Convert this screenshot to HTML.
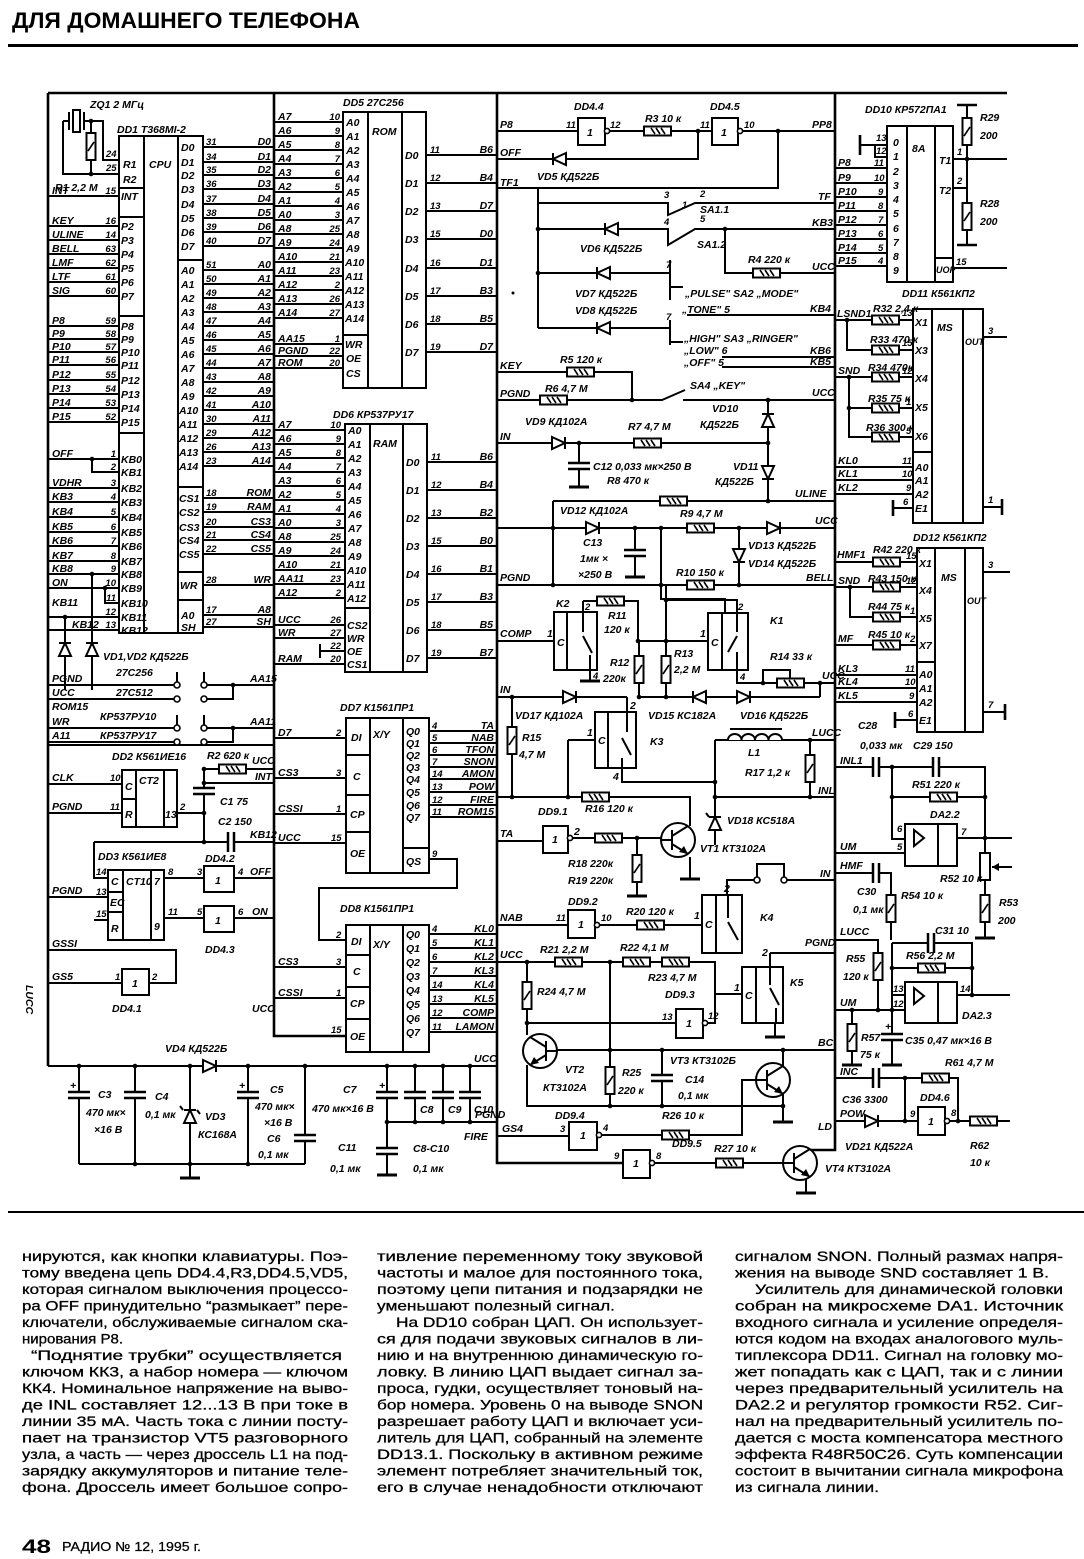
<!DOCTYPE html>
<html><head><meta charset="utf-8">
<style>
html,body{margin:0;padding:0;background:#fff;}
svg{display:block}
.t{font-family:"Liberation Sans Narrow","Liberation Sans",sans-serif;font-style:italic;font-weight:bold;font-size:10.5px;fill:#000}
.s{font-size:9.5px}
.e{text-anchor:end}
.b{font-family:"Liberation Sans",sans-serif;font-size:14px;fill:#000;stroke:#000;stroke-width:0.3}
.w{stroke:#000;stroke-width:2;fill:none}
.w3{stroke:#000;stroke-width:2.6;fill:none}
.bx{stroke:#000;stroke-width:2;fill:#fff}
</style></head><body>
<svg width="1084" height="1559" viewBox="0 0 1084 1559" xmlns="http://www.w3.org/2000/svg">
<defs>
<g id="rh"><rect x="0" y="-4.5" width="27" height="9" fill="#fff" stroke="#000" stroke-width="2"/><path d="M7,-3L11,3M12,-3L16,3M17,-3L21,3" stroke="#000" stroke-width="1.6" fill="none"/></g>
<g id="rv"><rect x="-4.5" y="0" width="9" height="27" fill="#fff" stroke="#000" stroke-width="2"/><path d="M-3,18L3,9" stroke="#000" stroke-width="1.6"/></g>
<g id="dR"><path d="M0,-6L13,0L0,6Z" fill="#fff" stroke="#000" stroke-width="2"/><path d="M13,-6V6" stroke="#000" stroke-width="2"/></g>
<g id="dL"><path d="M13,-6L0,0L13,6Z" fill="#fff" stroke="#000" stroke-width="2"/><path d="M0,-6V6" stroke="#000" stroke-width="2"/></g>
<g id="dU"><path d="M-6,13L0,0L6,13Z" fill="#fff" stroke="#000" stroke-width="2"/><path d="M-6,0H6" stroke="#000" stroke-width="2"/></g>
<g id="dD"><path d="M-6,0L0,13L6,0Z" fill="#fff" stroke="#000" stroke-width="2"/><path d="M-6,13H6" stroke="#000" stroke-width="2"/></g>
<g id="cH"><rect x="-2" y="-10" width="4" height="20" fill="#fff"/><path d="M-3,-10V10M3,-10V10" stroke="#000" stroke-width="2.5"/></g>
<g id="cV"><rect x="-11" y="-2" width="22" height="4" fill="#fff"/><path d="M-11,-3H11M-11,3H11" stroke="#000" stroke-width="2.5"/></g>
<g id="gnd"><path d="M-10,0H10" stroke="#000" stroke-width="3"/></g>
<g id="q"><circle r="17" fill="#fff" stroke="#000" stroke-width="2"/><path d="M-6,-10V10M-6,-4L10,-14M-6,4L10,14M-17,0H-6" stroke="#000" stroke-width="2" fill="none"/><path d="M10,14L1,12L6,6Z"/></g>
</defs>

<!-- HEADER -->
<text x="12" y="28" font-family="Liberation Sans" font-weight="bold" font-size="22" textLength="348" lengthAdjust="spacingAndGlyphs">ДЛЯ ДОМАШНЕГО ТЕЛЕФОНА</text>
<rect x="8" y="44" width="1070" height="3"/>

<!-- FRAME -->
<path class="w3" d="M48,93H1007M48,93V1066M274,93V1036H346M497,93V1163H623M835,93V1150H806"/>
<path d="M8,1212H1084" stroke="#000" stroke-width="2"/>

<!-- ===== LEFT: CRYSTAL + CPU ===== -->
<path class="w" d="M63,121H69M63,121V174H119M84,121H103V160H119M91,121V174"/>
<rect x="73" y="110" width="7" height="22" class="bx"/>
<path class="w" d="M69,112V130M84,112V130"/>
<use href="#rv" x="91" y="133"/>
<circle cx="91" cy="121" r="2.3"/><circle cx="91" cy="174" r="2.3"/>
<text class="t" x="90" y="108">ZQ1  2 МГц</text>
<text class="t" x="117" y="133">DD1  T368МI-2</text>
<text class="t" x="55" y="191">R1  2,2 M</text>
<text class="t s" x="106" y="157">24</text><text class="t s" x="106" y="171">25</text>

<path class="w" d="M48,196H119M48,226H119M48,240H119M48,254H119M48,268H119M48,282H119M48,296H119M48,326H119M48,339H119M48,352H119M48,365H119M48,380H119M48,394H119M48,408H119M48,422H119M48,459H119M92,459V472H119M48,488H119M48,502H119M48,517H119M48,532H119M48,546H119M48,561H119M48,574H119M48,588H119M105,588V603H119M48,617H119M48,630H119M65,617V690M92,574V690"/>
<circle cx="92" cy="459" r="2.3"/><circle cx="105" cy="588" r="2.3"/><circle cx="65" cy="617" r="2.3"/><circle cx="92" cy="574" r="2.3"/>
<use href="#dU" x="65" y="643"/><use href="#dU" x="92" y="643"/>
<text class="t" x="103" y="660">VD1,VD2   КД522Б</text>

<rect x="119" y="136" width="84" height="497" class="bx"/>
<path class="w" d="M144,136V633M178,136V633M119,188H144M119,217H144M119,316H144M119,433H144M178,260H203M178,487H203M178,572H203M178,600H203"/>
<text class="t" x="149" y="168" font-size="12">CPU</text>
<g class="t">
<text x="123" y="168">R1</text><text x="123" y="183">R2</text>
<text x="52" y="194">INT</text><text x="121" y="200">INT</text>
<text x="52" y="224">KEY</text><text x="52" y="238">ULINE</text><text x="52" y="252">BELL</text><text x="52" y="266">LMF</text><text x="52" y="280">LTF</text><text x="52" y="294">SIG</text>
<text x="52" y="324">P8</text><text x="52" y="337">P9</text><text x="52" y="350">P10</text><text x="52" y="363">P11</text><text x="52" y="378">P12</text><text x="52" y="392">P13</text><text x="52" y="406">P14</text><text x="52" y="420">P15</text>
<text x="52" y="457">OFF</text><text x="52" y="486">VDHR</text><text x="52" y="500">KB3</text><text x="52" y="515">KB4</text><text x="52" y="530">KB5</text><text x="52" y="544">KB6</text><text x="52" y="559">KB7</text><text x="52" y="572">KB8</text><text x="52" y="586">ON</text><text x="52" y="606">KB11</text><text x="72" y="628">KB12</text>
<text x="121" y="230">P2</text><text x="121" y="244">P3</text><text x="121" y="258">P4</text><text x="121" y="272">P5</text><text x="121" y="286">P6</text><text x="121" y="300">P7</text>
<text x="121" y="330">P8</text><text x="121" y="343">P9</text><text x="121" y="356">P10</text><text x="121" y="369">P11</text><text x="121" y="384">P12</text><text x="121" y="398">P13</text><text x="121" y="412">P14</text><text x="121" y="426">P15</text>
<text x="121" y="463">KB0</text><text x="121" y="476">KB1</text><text x="121" y="492">KB2</text><text x="121" y="506">KB3</text><text x="121" y="521">KB4</text><text x="121" y="536">KB5</text><text x="121" y="550">KB6</text><text x="121" y="565">KB7</text><text x="121" y="578">KB8</text><text x="121" y="592">KB9</text><text x="121" y="607">KB10</text><text x="121" y="621">KB11</text><text x="121" y="634">KB12</text>
</g>
<g class="t s e">
<text x="116" y="194">15</text><text x="116" y="224">16</text><text x="116" y="238">14</text><text x="116" y="252">63</text><text x="116" y="266">62</text><text x="116" y="280">61</text><text x="116" y="294">60</text>
<text x="116" y="324">59</text><text x="116" y="337">58</text><text x="116" y="350">57</text><text x="116" y="363">56</text><text x="116" y="378">55</text><text x="116" y="392">54</text><text x="116" y="406">53</text><text x="116" y="420">52</text>
<text x="116" y="457">1</text><text x="116" y="470">2</text><text x="116" y="486">3</text><text x="116" y="500">4</text><text x="116" y="515">5</text><text x="116" y="530">6</text><text x="116" y="544">7</text><text x="116" y="559">8</text><text x="116" y="572">9</text><text x="116" y="586">10</text><text x="116" y="601">11</text><text x="116" y="615">12</text><text x="116" y="628">13</text>
</g>

<path class="w" d="M203,147H274M203,162H274M203,175H274M203,189H274M203,204H274M203,218H274M203,232H274M203,246H274M203,270H274M203,284H274M203,298H274M203,312H274M203,326H274M203,340H274M203,354H274M203,368H274M203,382H274M203,396H274M203,410H274M203,424H274M203,438H274M203,452H274M203,466H274M203,498H274M203,512H274M203,527H274M203,540H274M203,554H274M203,585H274M203,615H274M203,627H274"/>
<g class="t">
<text x="181" y="151">D0</text><text x="181" y="166">D1</text><text x="181" y="179">D2</text><text x="181" y="193">D3</text><text x="181" y="208">D4</text><text x="181" y="222">D5</text><text x="181" y="236">D6</text><text x="181" y="250">D7</text>
<text x="181" y="274">A0</text><text x="181" y="288">A1</text><text x="181" y="302">A2</text><text x="181" y="316">A3</text><text x="181" y="330">A4</text><text x="181" y="344">A5</text><text x="181" y="358">A6</text><text x="181" y="372">A7</text><text x="181" y="386">A8</text><text x="181" y="400">A9</text><text x="179" y="414">A10</text><text x="179" y="428">A11</text><text x="179" y="442">A12</text><text x="179" y="456">A13</text><text x="179" y="470">A14</text>
<text x="179" y="502">CS1</text><text x="179" y="516">CS2</text><text x="179" y="531">CS3</text><text x="179" y="544">CS4</text><text x="179" y="558">CS5</text><text x="180" y="589">WR</text><text x="181" y="619">A0</text><text x="181" y="631">SH</text>
</g>
<g class="t s">
<text x="206" y="145">31</text><text x="206" y="160">34</text><text x="206" y="173">35</text><text x="206" y="187">36</text><text x="206" y="202">37</text><text x="206" y="216">38</text><text x="206" y="230">39</text><text x="206" y="244">40</text>
<text x="206" y="268">51</text><text x="206" y="282">50</text><text x="206" y="296">49</text><text x="206" y="310">48</text><text x="206" y="324">47</text><text x="206" y="338">46</text><text x="206" y="352">45</text><text x="206" y="366">44</text><text x="206" y="380">43</text><text x="206" y="394">42</text><text x="206" y="408">41</text><text x="206" y="422">30</text><text x="206" y="436">29</text><text x="206" y="450">26</text><text x="206" y="464">23</text>
<text x="206" y="496">18</text><text x="206" y="510">19</text><text x="206" y="525">20</text><text x="206" y="538">21</text><text x="206" y="552">22</text><text x="206" y="583">28</text><text x="206" y="613">17</text><text x="206" y="625">27</text>
</g>
<g class="t e">
<text x="271" y="145">D0</text><text x="271" y="160">D1</text><text x="271" y="173">D2</text><text x="271" y="187">D3</text><text x="271" y="202">D4</text><text x="271" y="216">D5</text><text x="271" y="230">D6</text><text x="271" y="244">D7</text>
<text x="271" y="268">A0</text><text x="271" y="282">A1</text><text x="271" y="296">A2</text><text x="271" y="310">A3</text><text x="271" y="324">A4</text><text x="271" y="338">A5</text><text x="271" y="352">A6</text><text x="271" y="366">A7</text><text x="271" y="380">A8</text><text x="271" y="394">A9</text><text x="271" y="408">A10</text><text x="271" y="422">A11</text><text x="271" y="436">A12</text><text x="271" y="450">A13</text><text x="271" y="464">A14</text>
<text x="271" y="496">ROM</text><text x="271" y="510">RAM</text><text x="271" y="525">CS3</text><text x="271" y="538">CS4</text><text x="271" y="552">CS5</text><text x="271" y="583">WR</text><text x="271" y="613">A8</text><text x="271" y="625">SH</text>
</g>

<!-- ===== DD5 ROM ===== -->
<text class="t" x="343" y="106">DD5  27C256</text>
<path class="w" d="M274,122H343M274,136H343M274,150H343M274,164H343M274,178H343M274,192H343M274,206H343M274,220H343M274,234H343M274,248H343M274,262H343M274,276H343M274,290H343M274,304H343M274,318H343M274,344H343M274,356H343M274,368H343M426,155H497M426,183H497M426,211H497M426,239H497M426,268H497M426,296H497M426,324H497M426,352H497"/>
<rect x="343" y="112" width="83" height="276" class="bx"/>
<path class="w" d="M368,112V388M402,112V388M343,335H368"/>
<text class="t" x="372" y="135">ROM</text>
<g class="t">
<text x="278" y="120">A7</text><text x="278" y="134">A6</text><text x="278" y="148">A5</text><text x="278" y="162">A4</text><text x="278" y="176">A3</text><text x="278" y="190">A2</text><text x="278" y="204">A1</text><text x="278" y="218">A0</text><text x="278" y="232">A8</text><text x="278" y="246">A9</text><text x="278" y="260">A10</text><text x="278" y="274">A11</text><text x="278" y="288">A12</text><text x="278" y="302">A13</text><text x="278" y="316">A14</text><text x="278" y="342">AA15</text><text x="278" y="354">PGND</text><text x="278" y="366">ROM</text>
<text x="346" y="126">A0</text><text x="346" y="140">A1</text><text x="346" y="154">A2</text><text x="346" y="168">A3</text><text x="346" y="182">A4</text><text x="346" y="196">A5</text><text x="346" y="210">A6</text><text x="346" y="224">A7</text><text x="346" y="238">A8</text><text x="346" y="252">A9</text><text x="345" y="266">A10</text><text x="345" y="280">A11</text><text x="345" y="294">A12</text><text x="345" y="308">A13</text><text x="345" y="322">A14</text><text x="345" y="348">WR</text><text x="346" y="362">OE</text><text x="346" y="377">CS</text>
<text x="405" y="159">D0</text><text x="405" y="187">D1</text><text x="405" y="215">D2</text><text x="405" y="243">D3</text><text x="405" y="272">D4</text><text x="405" y="300">D5</text><text x="405" y="328">D6</text><text x="405" y="356">D7</text>
</g>
<g class="t s e">
<text x="340" y="120">10</text><text x="340" y="134">9</text><text x="340" y="148">8</text><text x="340" y="162">7</text><text x="340" y="176">6</text><text x="340" y="190">5</text><text x="340" y="204">4</text><text x="340" y="218">3</text><text x="340" y="232">25</text><text x="340" y="246">24</text><text x="340" y="260">21</text><text x="340" y="274">23</text><text x="340" y="288">2</text><text x="340" y="302">26</text><text x="340" y="316">27</text><text x="340" y="342">1</text><text x="340" y="354">22</text><text x="340" y="366">20</text>
</g>
<g class="t s"><text x="430" y="153">11</text><text x="430" y="181">12</text><text x="430" y="209">13</text><text x="430" y="237">15</text><text x="430" y="266">16</text><text x="430" y="294">17</text><text x="430" y="322">18</text><text x="430" y="350">19</text></g>
<g class="t e"><text x="493" y="153">B6</text><text x="493" y="181">B4</text><text x="493" y="209">D7</text><text x="493" y="237">D0</text><text x="493" y="266">D1</text><text x="493" y="294">B3</text><text x="493" y="322">B5</text><text x="493" y="350">D7</text></g>

<!-- ===== DD6 RAM ===== -->
<text class="t" x="333" y="418">DD6  КР537РУ17</text>
<path class="w" d="M274,430H345M274,444H345M274,458H345M274,472H345M274,486H345M274,500H345M274,514H345M274,528H345M274,542H345M274,556H345M274,570H345M274,584H345M274,598H345M274,625H345M274,638H345M320,651H345M320,644V658M274,664H345M427,462H497M427,490H497M427,518H497M427,546H497M427,574H497M427,602H497M427,630H497M427,658H497"/>
<rect x="345" y="424" width="82" height="248" class="bx"/>
<path class="w" d="M370,424V672M403,424V672M345,608H370"/>
<text class="t" x="373" y="447">RAM</text>
<g class="t">
<text x="278" y="428">A7</text><text x="278" y="442">A6</text><text x="278" y="456">A5</text><text x="278" y="470">A4</text><text x="278" y="484">A3</text><text x="278" y="498">A2</text><text x="278" y="512">A1</text><text x="278" y="526">A0</text><text x="278" y="540">A8</text><text x="278" y="554">A9</text><text x="278" y="568">A10</text><text x="278" y="582">AA11</text><text x="278" y="596">A12</text><text x="278" y="623">UCC</text><text x="278" y="636">WR</text><text x="278" y="662">RAM</text>
<text x="348" y="434">A0</text><text x="348" y="448">A1</text><text x="348" y="462">A2</text><text x="348" y="476">A3</text><text x="348" y="490">A4</text><text x="348" y="504">A5</text><text x="348" y="518">A6</text><text x="348" y="532">A7</text><text x="348" y="546">A8</text><text x="348" y="560">A9</text><text x="347" y="574">A10</text><text x="347" y="588">A11</text><text x="347" y="602">A12</text><text x="347" y="629">CS2</text><text x="347" y="642">WR</text><text x="347" y="655">OE</text><text x="347" y="668">CS1</text>
<text x="406" y="466">D0</text><text x="406" y="494">D1</text><text x="406" y="522">D2</text><text x="406" y="550">D3</text><text x="406" y="578">D4</text><text x="406" y="606">D5</text><text x="406" y="634">D6</text><text x="406" y="662">D7</text>
</g>
<g class="t s e">
<text x="341" y="428">10</text><text x="341" y="442">9</text><text x="341" y="456">8</text><text x="341" y="470">7</text><text x="341" y="484">6</text><text x="341" y="498">5</text><text x="341" y="512">4</text><text x="341" y="526">3</text><text x="341" y="540">25</text><text x="341" y="554">24</text><text x="341" y="568">21</text><text x="341" y="582">23</text><text x="341" y="596">2</text><text x="341" y="623">26</text><text x="341" y="636">27</text><text x="341" y="649">22</text><text x="341" y="662">20</text>
</g>
<g class="t s"><text x="431" y="460">11</text><text x="431" y="488">12</text><text x="431" y="516">13</text><text x="431" y="544">15</text><text x="431" y="572">16</text><text x="431" y="600">17</text><text x="431" y="628">18</text><text x="431" y="656">19</text></g>
<g class="t e"><text x="493" y="460">B6</text><text x="493" y="488">B4</text><text x="493" y="516">B2</text><text x="493" y="544">B0</text><text x="493" y="572">B1</text><text x="493" y="600">B3</text><text x="493" y="628">B5</text><text x="493" y="656">B7</text></g>

<!-- ===== DD7 ===== -->
<text class="t" x="340" y="711">DD7  К1561ПР1</text>
<path class="w" d="M274,738H346M274,778H346M274,814H346M274,843H346M429,731H497M429,743H497M429,755H497M429,767H497M429,779H497M429,792H497M429,805H497M429,817H497M429,859H457V888H319V940H346"/>
<rect x="346" y="718" width="83" height="155" class="bx"/>
<path class="w" d="M370,718V873M403,718V873M346,755H370M346,795H370M346,832H370M403,848H429"/>
<g class="t">
<text x="373" y="738">X/Y</text>
<text x="351" y="741">DI</text><text x="353" y="780">C</text><text x="350" y="818">CP</text><text x="350" y="857">OE</text>
<text x="406" y="735">Q0</text><text x="406" y="747">Q1</text><text x="406" y="759">Q2</text><text x="406" y="771">Q3</text><text x="406" y="783">Q4</text><text x="406" y="796">Q5</text><text x="406" y="809">Q6</text><text x="406" y="821">Q7</text><text x="406" y="865">QS</text>
<text x="278" y="736">D7</text><text x="278" y="776">CS3</text><text x="278" y="812">CSSI</text><text x="278" y="841">UCC</text>
</g>
<g class="t s"><text x="336" y="736">2</text><text x="336" y="776">3</text><text x="336" y="812">1</text><text x="331" y="841">15</text>
<text x="432" y="729">4</text><text x="432" y="741">5</text><text x="432" y="753">6</text><text x="432" y="765">7</text><text x="432" y="777">14</text><text x="432" y="790">13</text><text x="432" y="803">12</text><text x="432" y="815">11</text><text x="432" y="857">9</text></g>
<g class="t e"><text x="494" y="729">TA</text><text x="494" y="741">NAB</text><text x="494" y="753">TFON</text><text x="494" y="765">SNON</text><text x="494" y="777">AMON</text><text x="494" y="790">POW</text><text x="494" y="803">FIRE</text><text x="494" y="815">ROM15</text></g>

<!-- ===== DD8 ===== -->
<text class="t" x="340" y="912">DD8  К1561ПР1</text>
<path class="w" d="M274,967H346M274,998H346M429,934H497M429,948H497M429,962H497M429,976H497M429,990H497M429,1004H497M429,1018H497M429,1032H497"/>
<rect x="346" y="925" width="83" height="127" class="bx"/>
<path class="w" d="M370,925V1052M403,925V1052M346,955H370M346,987H370M346,1019H370"/>
<g class="t">
<text x="373" y="948">X/Y</text>
<text x="351" y="945">DI</text><text x="353" y="975">C</text><text x="350" y="1007">CP</text><text x="350" y="1040">OE</text>
<text x="406" y="938">Q0</text><text x="406" y="952">Q1</text><text x="406" y="966">Q2</text><text x="406" y="980">Q3</text><text x="406" y="994">Q4</text><text x="406" y="1008">Q5</text><text x="406" y="1022">Q6</text><text x="406" y="1036">Q7</text>
<text x="278" y="965">CS3</text><text x="278" y="996">CSSI</text><text x="252" y="1012">UCC</text>
</g>
<g class="t s"><text x="336" y="938">2</text><text x="336" y="965">3</text><text x="336" y="996">1</text><text x="331" y="1033">15</text>
<text x="432" y="932">4</text><text x="432" y="946">5</text><text x="432" y="960">6</text><text x="432" y="974">7</text><text x="432" y="988">14</text><text x="432" y="1002">13</text><text x="432" y="1016">12</text><text x="432" y="1030">11</text></g>
<g class="t e"><text x="494" y="932">KL0</text><text x="494" y="946">KL1</text><text x="494" y="960">KL2</text><text x="494" y="974">KL3</text><text x="494" y="988">KL4</text><text x="494" y="1002">KL5</text><text x="494" y="1016">COMP</text><text x="494" y="1030">LAMON</text></g>

<!-- ===== LEFT LOWER ===== -->
<path class="w" d="M48,685H177M48,699H177M48,728H177M48,742H177M177,685V672M204,672V685M177,728V715M204,715V728M204,685H274M233,685V699H204M204,728H274M233,728V742H204M48,745H274"/>
<g fill="#fff" stroke="#000" stroke-width="1.6"><circle cx="177" cy="685" r="3"/><circle cx="204" cy="685" r="3"/><circle cx="177" cy="699" r="3"/><circle cx="204" cy="699" r="3"/><circle cx="177" cy="728" r="3"/><circle cx="204" cy="728" r="3"/><circle cx="177" cy="742" r="3"/><circle cx="204" cy="742" r="3"/></g>
<circle cx="233" cy="685" r="2.3"/><circle cx="233" cy="728" r="2.3"/>
<g class="t">
<text x="52" y="682">PGND</text><text x="52" y="696">UCC</text><text x="52" y="710">ROM15</text><text x="52" y="725">WR</text><text x="52" y="739">A11</text>
<text x="116" y="676">27C256</text><text x="116" y="696">27C512</text><text x="100" y="720">КР537РУ10</text><text x="100" y="739">КР537РУ17</text>
<text x="250" y="682">AA15</text><text x="250" y="725">AA11</text>
<text x="112" y="760">DD2  К561ИЕ16</text>
<text x="207" y="759">R2  620 к</text>
<text x="252" y="764">UCC</text><text x="255" y="780">INT</text>
<text x="220" y="805">C1  75</text><text x="218" y="825">C2  150</text>
<text x="250" y="838">KB12</text>
<text x="52" y="781">CLK</text><text x="52" y="810">PGND</text>
<text x="98" y="860">DD3  К561ИЕ8</text>
<text x="205" y="862">DD4.2</text><text x="205" y="953">DD4.3</text>
<text x="250" y="875">OFF</text><text x="252" y="915">ON</text>
<text x="52" y="894">PGND</text><text x="52" y="947">GSSI</text><text x="52" y="980">GS5</text>
<text x="112" y="1012">DD4.1</text>
</g>
<text class="t" x="26" y="985" transform="rotate(90 26 985)">LUCC</text>
<path class="w" d="M48,784H122M48,813H122M177,813H204M204,769V842M204,769H274M204,783H274M94,842H274M94,842V878H108M48,897H108M94,920H108M164,878H204M234,878H274M164,918H204M234,918H274M48,950H176V983H150M48,983H122"/>
<rect x="122" y="770" width="55" height="57" class="bx"/>
<path class="w" d="M136,770V827M164,770V827M122,799H136"/>
<rect x="108" y="870" width="56" height="70" class="bx"/>
<path class="w" d="M123,870V940M151,870V940M108,892H123M108,912H123"/>
<rect x="204" y="866" width="30" height="26" class="bx"/>
<rect x="204" y="906" width="30" height="26" class="bx"/>
<rect x="122" y="969" width="27" height="26" class="bx"/>
<use href="#rh" x="219" y="769"/>
<use href="#cV" x="204" y="791"/>
<use href="#cH" x="231" y="842"/>
<circle cx="204" cy="813" r="2.3"/><circle cx="204" cy="769" r="2.3"/><circle cx="204" cy="842" r="2.3"/><circle cx="204" cy="783" r="2.3"/>
<g class="t">
<text x="125" y="790">C</text><text x="125" y="818">R</text><text x="139" y="784">CT2</text><text x="165" y="818">13</text>
<text x="111" y="885">C</text><text x="110" y="906">EC</text><text x="111" y="932">R</text><text x="126" y="885">CT10</text><text x="154" y="885">7</text><text x="154" y="930">9</text>
<text x="215" y="884">1</text><text x="215" y="924">1</text><text x="132" y="987">1</text>
</g>
<g class="t s"><text x="110" y="781">10</text><text x="110" y="810">11</text><text x="180" y="810">2</text><text x="168" y="875">8</text><text x="197" y="875">3</text><text x="238" y="875">4</text><text x="168" y="915">11</text><text x="197" y="915">5</text><text x="238" y="915">6</text><text x="96" y="875">14</text><text x="96" y="895">13</text><text x="96" y="917">15</text><text x="115" y="980">1</text><text x="152" y="980">2</text></g>

<!-- ===== POWER ===== -->
<path class="w" d="M48,1066H497M79,1066V1164M135,1066V1164M190,1066V1178M248,1066V1164M305,1066V1164M79,1164H305M387,1066V1175M415,1066V1122M443,1066V1122M470,1066V1122M387,1122H497"/>
<use href="#dR" x="203" y="1066"/>
<use href="#cV" x="79" y="1095"/><use href="#cV" x="135" y="1095"/><use href="#cV" x="248" y="1095"/><use href="#cV" x="305" y="1138"/>
<use href="#cV" x="387" y="1095"/><use href="#cV" x="415" y="1095"/><use href="#cV" x="443" y="1095"/><use href="#cV" x="470" y="1095"/><use href="#cV" x="387" y="1151"/>
<use href="#dU" x="190" y="1110"/><path class="w" d="M183,1110L180,1106M197,1110L200,1114"/>
<use href="#gnd" x="190" y="1178"/><use href="#gnd" x="387" y="1175"/>
<g><circle cx="79" cy="1066" r="2.3"/><circle cx="135" cy="1066" r="2.3"/><circle cx="190" cy="1066" r="2.3"/><circle cx="248" cy="1066" r="2.3"/><circle cx="305" cy="1066" r="2.3"/><circle cx="387" cy="1066" r="2.3"/><circle cx="415" cy="1066" r="2.3"/><circle cx="443" cy="1066" r="2.3"/><circle cx="470" cy="1066" r="2.3"/><circle cx="135" cy="1164" r="2.3"/><circle cx="190" cy="1164" r="2.3"/><circle cx="248" cy="1164" r="2.3"/><circle cx="387" cy="1122" r="2.3"/><circle cx="415" cy="1122" r="2.3"/><circle cx="443" cy="1122" r="2.3"/><circle cx="470" cy="1122" r="2.3"/></g>
<g class="t">
<text x="165" y="1052">VD4   КД522Б</text>
<text x="70" y="1089">+</text><text x="239" y="1089">+</text><text x="379" y="1089">+</text>
<text x="98" y="1098">C3</text><text x="86" y="1116">470 мк×</text><text x="94" y="1133">×16 В</text>
<text x="155" y="1100">C4</text><text x="145" y="1118">0,1 мк</text>
<text x="205" y="1120">VD3</text><text x="198" y="1138">КС168А</text>
<text x="270" y="1093">C5</text><text x="255" y="1110">470 мк×</text><text x="264" y="1126">×16 В</text><text x="267" y="1142">C6</text><text x="258" y="1158">0,1 мк</text>
<text x="343" y="1093">C7</text><text x="312" y="1112">470 мк×16 В</text>
<text x="420" y="1113">C8</text><text x="448" y="1113">C9</text><text x="474" y="1113">C10</text>
<text x="338" y="1151">C11</text><text x="330" y="1172">0,1 мк</text>
<text x="413" y="1152">C8-C10</text><text x="413" y="1172">0,1 мк</text>
<text x="474" y="1062">UCC</text><text x="475" y="1118">PGND</text><text x="464" y="1140">FIRE</text>
</g>

<!-- ===== MIDDLE TOP ===== -->
<path class="w" d="M497,131H835M497,159H698V131M497,188H778V131M538,188V328M538,203H668V215L695,203H835M538,229H668V245L695,229H835M725,229V273H835M538,273H670M538,328H670M670,260V300M670,320V345M670,287H683M670,342H683M687,315H835M722,357H835M722,367H835M497,372H632V400M497,400H662L685,390M683,400H835"/>
<rect x="578" y="118" width="27" height="27" class="bx"/>
<rect x="712" y="118" width="26" height="27" class="bx"/>
<circle cx="607" cy="131" r="2.6" fill="#fff" stroke="#000" stroke-width="1.6"/><circle cx="740" cy="131" r="2.6" fill="#fff" stroke="#000" stroke-width="1.6"/>
<use href="#rh" x="644" y="131"/>
<use href="#dL" x="553" y="159"/>
<use href="#dL" x="605" y="229"/><use href="#dL" x="597" y="273"/><use href="#dL" x="597" y="328"/>
<use href="#rh" x="753" y="273"/><use href="#rh" x="567" y="372"/><use href="#rh" x="540" y="400"/>
<circle cx="698" cy="131" r="2.3"/><circle cx="778" cy="131" r="2.3"/><circle cx="538" cy="229" r="2.3"/><circle cx="538" cy="273" r="2.3"/><circle cx="725" cy="229" r="2.3"/><circle cx="632" cy="400" r="2.3"/><circle cx="513" cy="293" r="1.5"/>
<g class="t">
<text x="500" y="128">P8</text><text x="500" y="156">OFF</text><text x="500" y="186">TF1</text><text x="500" y="369">KEY</text><text x="500" y="397">PGND</text>
<text x="574" y="110">DD4.4</text><text x="710" y="110">DD4.5</text><text x="645" y="122">R3  10 к</text>
<text x="587" y="136">1</text><text x="721" y="136">1</text>
<text x="537" y="180">VD5   КД522Б</text>
<text x="812" y="128">PP8</text><text x="818" y="200">TF</text><text x="812" y="226">KB3</text><text x="812" y="270">UCC</text><text x="810" y="312">KB4</text><text x="810" y="354">KB6</text><text x="810" y="365">KB5</text><text x="812" y="396">UCC</text>
<text x="700" y="213">SA1.1</text><text x="697" y="248">SA1.2</text>
<text x="580" y="252">VD6  КД522Б</text><text x="575" y="297">VD7  КД522Б</text><text x="575" y="314">VD8  КД522Б</text>
<text x="748" y="263">R4  220 к</text>
<text x="685" y="297">„PULSE"  SA2  „MODE"</text><text x="682" y="313">„TONE"  5</text>
<text x="684" y="342">„HIGH"  SA3  „RINGER"</text><text x="684" y="354">„LOW"  6</text><text x="684" y="366">„OFF"  5</text>
<text x="560" y="363">R5   120 к</text><text x="545" y="392">R6   4,7 M</text><text x="690" y="389">SA4 „KEY"</text>
</g>
<g class="t s"><text x="566" y="128">11</text><text x="610" y="128">12</text><text x="700" y="128">11</text><text x="744" y="128">10</text><text x="664" y="198">3</text><text x="682" y="208">1</text><text x="700" y="197">2</text><text x="664" y="225">4</text><text x="700" y="222">5</text><text x="666" y="268">7</text><text x="666" y="320">7</text></g>

<!-- ===== MIDDLE: IN / ULINE / UCC / BELL ===== -->
<path class="w" d="M768,400V501M497,443H768M579,443V487M553,501H835M553,501V585M497,528H835M635,528V577M739,528V585M497,585H835M661,528V599H725V615"/>
<use href="#dU" x="768" y="414"/><use href="#dD" x="768" y="466"/>
<use href="#dR" x="552" y="443"/><use href="#rh" x="634" y="443"/>
<use href="#cV" x="579" y="466"/><use href="#gnd" x="579" y="487"/>
<use href="#rh" x="660" y="501"/>
<use href="#dR" x="586" y="528"/><use href="#rh" x="687" y="528"/><use href="#dR" x="767" y="528"/>
<use href="#cV" x="635" y="553"/><use href="#gnd" x="635" y="577"/>
<use href="#dD" x="739" y="549"/>
<use href="#rh" x="687" y="585"/>
<g><circle cx="768" cy="400" r="2.3"/><circle cx="768" cy="443" r="2.3"/><circle cx="768" cy="501" r="2.3"/><circle cx="579" cy="443" r="2.3"/><circle cx="553" cy="528" r="2.3"/><circle cx="635" cy="528" r="2.3"/><circle cx="661" cy="528" r="2.3"/><circle cx="739" cy="528" r="2.3"/><circle cx="553" cy="585" r="2.3"/><circle cx="661" cy="585" r="2.3"/><circle cx="739" cy="585" r="2.3"/></g>
<g class="t">
<text x="500" y="440">IN</text><text x="525" y="425">VD9   КД102А</text>
<text x="628" y="430">R7   4,7 M</text>
<text x="712" y="412">VD10</text><text x="700" y="428">КД522Б</text>
<text x="733" y="470">VD11</text><text x="715" y="485">КД522Б</text>
<text x="593" y="470">C12  0,033 мк×250 В</text><text x="607" y="484">R8  470 к</text>
<text x="795" y="497">ULINE</text>
<text x="560" y="514">VD12   КД102А</text><text x="680" y="517">R9   4,7 M</text><text x="815" y="524">UCC</text>
<text x="583" y="546">C13</text><text x="580" y="562">1мк ×</text><text x="578" y="578">×250 В</text>
<text x="748" y="549">VD13  КД522Б</text><text x="748" y="567">VD14  КД522Б</text>
<text x="500" y="581">PGND</text><text x="676" y="576">R10   150 к</text><text x="806" y="581">BELL</text>
</g>

<!-- ===== RELAYS K2 K1 ===== -->
<path class="w" d="M583,601H638V641M583,601V632M583,636L592,653M590,655V680M497,641H554M638,641H708M639,641V697M666,585V697M666,600H737V632M737,636L728,652M737,652V683H835M763,683V670H790V678M820,683V697M497,697H627M639,697H820M627,697V732M622,738L631,755M622,758V782H715"/>
<rect x="554" y="612" width="43" height="58" class="bx"/><path class="w" d="M567,612V670M583,601V632M583,636L592,653M590,655V670"/>
<rect x="708" y="613" width="40" height="57" class="bx"/><path class="w" d="M722,613V670M737,600V632M737,636L728,652M737,652V670"/>
<use href="#gnd" x="590" y="681"/>
<use href="#rh" x="597" y="601"/><use href="#rv" x="639" y="656"/><use href="#rv" x="666" y="656"/><use href="#rh" x="777" y="683"/>
<use href="#dR" x="563" y="697"/><use href="#dL" x="693" y="697"/><use href="#dR" x="737" y="697"/>
<g><circle cx="638" cy="641" r="2.3"/><circle cx="666" cy="641" r="2.3"/><circle cx="666" cy="600" r="2.3"/><circle cx="666" cy="697" r="2.3"/><circle cx="639" cy="697" r="2.3"/><circle cx="820" cy="683" r="2.3"/><circle cx="763" cy="683" r="2.3"/><circle cx="512" cy="697" r="2.3"/></g>
<g class="t">
<text x="556" y="607">K2</text><text x="557" y="646">C</text><text x="711" y="646">C</text><text x="770" y="624">K1</text>
<text x="500" y="637">COMP</text><text x="547" y="637">1</text><text x="700" y="637">1</text>
<text x="608" y="619">R11</text><text x="604" y="633">120 к</text>
<text x="610" y="666">R12</text><text x="603" y="682">220к</text>
<text x="674" y="657">R13</text><text x="674" y="673">2,2 M</text>
<text x="770" y="660">R14   33 к</text><text x="822" y="679">UCC</text>
<text x="500" y="693">IN</text><text x="515" y="719">VD17  КД102А</text><text x="648" y="719">VD15  КС182А</text><text x="740" y="719">VD16   КД522Б</text>
</g>
<g class="t s"><text x="585" y="610">2</text><text x="738" y="610">2</text><text x="593" y="679">4</text><text x="740" y="680">4</text></g>

<!-- ===== K3 / L1 / VT1 ===== -->
<path class="w" d="M512,697V797M568,740H595M568,740V797M497,797H690V826M715,740V845M715,740H835M810,740V797M715,797H835M497,841H543M572,838H662M637,838V895M690,857V878"/>
<rect x="595" y="712" width="41" height="56" class="bx"/><path class="w" d="M608,712V768M627,712V732M622,738L631,755M622,758V768"/>
<path d="M728,740a6.75,6 0 0 1 13.5,0a6.75,6 0 0 1 13.5,0a6.75,6 0 0 1 13.5,0a6.75,6 0 0 1 13.5,0" fill="#fff" stroke="#000" stroke-width="2"/>
<path class="w" d="M730,729H782"/>
<use href="#rv" x="512" y="727"/><use href="#rh" x="582" y="797"/><use href="#rv" x="810" y="755"/>
<use href="#dU" x="715" y="817"/><path class="w" d="M709,817L706,813"/>
<rect x="543" y="826" width="25" height="27" class="bx"/><circle cx="570" cy="838" r="2.6" fill="#fff" stroke="#000" stroke-width="1.6"/>
<use href="#rh" x="595" y="838"/><use href="#rv" x="637" y="855"/><use href="#gnd" x="637" y="896"/>
<use href="#q" x="678" y="840"/><use href="#gnd" x="690" y="879"/>
<g><circle cx="568" cy="797" r="2.3"/><circle cx="715" cy="782" r="2.3"/><circle cx="715" cy="797" r="2.3"/><circle cx="810" cy="740" r="2.3"/><circle cx="810" cy="797" r="2.3"/><circle cx="637" cy="838" r="2.3"/><circle cx="512" cy="797" r="2.3"/></g>
<g class="t">
<text x="522" y="741">R15</text><text x="519" y="758">4,7 M</text>
<text x="598" y="744">C</text><text x="650" y="745">K3</text><text x="587" y="736">1</text><text x="630" y="709">2</text><text x="613" y="780">4</text>
<text x="748" y="756">L1</text><text x="745" y="776">R17   1,2 к</text><text x="812" y="736">LUCC</text><text x="818" y="794">INL</text>
<text x="538" y="815">DD9.1</text><text x="585" y="812">R16    120 к</text>
<text x="727" y="824">VD18   КС518А</text>
<text x="500" y="837">TA</text><text x="552" y="843">1</text><text x="574" y="835">2</text>
<text x="568" y="867">R18   220к</text><text x="568" y="884">R19   220к</text>
<text x="700" y="852">VT1   КТ3102А</text>
</g>

<!-- ===== K4 / K5 / DD9 ===== -->
<path class="w" d="M727,895V880H754M757,880V864H784V880M787,880H835M497,925H568M599,925H702M497,962H715V994H742M527,962V1035M610,962V1106M770,953H835M770,953V985M775,1008V1036M527,1023H676M707,1023H715V994M555,1050H835M662,1050V1106M783,1050V1066M783,1094V1122M527,1065V1106H783M497,1136H569M601,1135H742V1080H756M654,1163H783M806,1150H835M806,1178V1192"/>
<rect x="702" y="895" width="40" height="58" class="bx"/><path class="w" d="M716,895V953M728,895V918M728,922L738,940"/>
<g fill="#fff" stroke="#000" stroke-width="1.6"><circle cx="757" cy="880" r="3"/><circle cx="784" cy="880" r="3"/></g>
<rect x="568" y="910" width="27" height="28" class="bx"/><circle cx="597" cy="925" r="2.6" fill="#fff" stroke="#000" stroke-width="1.6"/>
<use href="#rh" x="637" y="925"/>
<use href="#rh" x="555" y="962"/><use href="#rh" x="623" y="962"/><use href="#rh" x="662" y="962"/>
<use href="#rv" x="527" y="982"/>
<rect x="742" y="967" width="41" height="56" class="bx"/><path class="w" d="M756,967V1023M770,967V985M770,988L779,1005M776,1008V1023"/>
<use href="#gnd" x="775" y="1037"/>
<rect x="676" y="1009" width="27" height="29" class="bx"/><circle cx="705" cy="1023" r="2.6" fill="#fff" stroke="#000" stroke-width="1.6"/>
<use href="#q" x="540" y="1051" transform="translate(1080 0) scale(-1 1)"/>
<use href="#rv" x="610" y="1067"/><use href="#cV" x="662" y="1078"/>
<use href="#q" x="773" y="1080"/><use href="#gnd" x="783" y="1122"/>
<rect x="569" y="1122" width="28" height="28" class="bx"/><circle cx="599" cy="1135" r="2.6" fill="#fff" stroke="#000" stroke-width="1.6"/>
<use href="#rh" x="662" y="1135"/>
<rect x="623" y="1150" width="27" height="28" class="bx"/><circle cx="652" cy="1163" r="2.6" fill="#fff" stroke="#000" stroke-width="1.6"/>
<use href="#rh" x="716" y="1163"/>
<use href="#q" x="800" y="1163"/><use href="#gnd" x="806" y="1193"/>
<g><circle cx="610" cy="962" r="2.3"/><circle cx="527" cy="962" r="2.3"/><circle cx="527" cy="1023" r="2.3"/><circle cx="610" cy="1050" r="2.3"/><circle cx="662" cy="1050" r="2.3"/><circle cx="783" cy="1050" r="2.3"/><circle cx="610" cy="1106" r="2.3"/><circle cx="662" cy="1106" r="2.3"/><circle cx="783" cy="1106" r="2.3"/></g>
<g class="t">
<text x="820" y="877">IN</text><text x="705" y="928">C</text><text x="694" y="919">1</text><text x="760" y="921">K4</text><text x="724" y="892">2</text>
<text x="500" y="921">NAB</text><text x="568" y="905">DD9.2</text><text x="578" y="928">1</text><text x="626" y="915">R20  120 к</text>
<text x="500" y="958">UCC</text><text x="540" y="953">R21   2,2 M</text><text x="620" y="951">R22   4,1 M</text>
<text x="648" y="981">R23   4,7 M</text><text x="665" y="998">DD9.3</text><text x="686" y="1027">1</text>
<text x="537" y="995">R24   4,7 M</text>
<text x="745" y="999">C</text><text x="734" y="991">1</text><text x="790" y="986">K5</text><text x="762" y="956">2</text>
<text x="805" y="946">PGND</text><text x="818" y="1046">BC</text>
<text x="565" y="1073">VT2</text><text x="543" y="1091">КТ3102А</text>
<text x="622" y="1076">R25</text><text x="618" y="1094">220 к</text>
<text x="670" y="1064">VT3   КТ3102Б</text><text x="685" y="1083">C14</text><text x="678" y="1099">0,1 мк</text>
<text x="502" y="1132">GS4</text><text x="555" y="1119">DD9.4</text><text x="580" y="1139">1</text><text x="662" y="1119">R26   10 к</text>
<text x="672" y="1147">DD9.5</text><text x="633" y="1167">1</text><text x="714" y="1152">R27   10 к</text>
<text x="818" y="1130">LD</text><text x="825" y="1172">VT4   КТ3102А</text>
</g>
<g class="t s"><text x="556" y="921">11</text><text x="601" y="921">10</text><text x="662" y="1020">13</text><text x="708" y="1019">12</text><text x="560" y="1132">3</text><text x="603" y="1131">4</text><text x="614" y="1159">9</text><text x="656" y="1159">8</text></g>

<!-- ===== RIGHT: DD10 ===== -->
<text class="t" x="865" y="113">DD10  КР572ПА1</text>
<path class="w" d="M835,168H887M835,183H887M835,197H887M835,211H887M835,225H887M835,239H887M835,253H887M835,266H887M860,145H887M875,145V157H887M953,159H1007M967,105V245M953,188H967M953,268H1007"/>
<path class="w3" d="M860,135V155M957,105H977M957,245H977"/>
<rect x="887" y="126" width="66" height="156" class="bx"/>
<path class="w" d="M907,126V282M935,126V282M935,258H953"/>
<use href="#rv" x="967" y="118"/><use href="#rv" x="967" y="203"/>
<circle cx="967" cy="159" r="2.3"/>
<g class="t">
<text x="893" y="146">0</text><text x="893" y="160">1</text><text x="893" y="175">2</text><text x="893" y="189">3</text><text x="893" y="203">4</text><text x="893" y="217">5</text><text x="893" y="232">6</text><text x="893" y="246">7</text><text x="893" y="260">8</text><text x="893" y="274">9</text>
<text x="912" y="152">8A</text><text x="939" y="164">T1</text><text x="939" y="194">T2</text><text x="936" y="273" font-size="9">UOP</text>
<text x="838" y="166">P8</text><text x="838" y="181">P9</text><text x="838" y="195">P10</text><text x="838" y="209">P11</text><text x="838" y="223">P12</text><text x="838" y="237">P13</text><text x="838" y="251">P14</text><text x="838" y="264">P15</text>
<text x="980" y="121">R29</text><text x="980" y="139">200</text><text x="980" y="207">R28</text><text x="980" y="225">200</text>
</g>
<g class="t s"><text x="876" y="141">13</text><text x="876" y="154">12</text><text x="874" y="166">11</text><text x="874" y="181">10</text><text x="878" y="195">9</text><text x="878" y="209">8</text><text x="878" y="223">7</text><text x="878" y="237">6</text><text x="878" y="251">5</text><text x="878" y="264">4</text><text x="957" y="155">1</text><text x="957" y="184">2</text><text x="956" y="265">15</text></g>

<!-- ===== DD11 ===== -->
<text class="t" x="902" y="297">DD11  К561КП2</text>
<path class="w" d="M835,320H913M847,320V350H913M835,377H913M849,377V437H913M849,408H913M835,467H913M835,480H913M835,494H913M893,508H913M983,337H1007M983,507H1002"/>
<path class="w3" d="M893,500V516M1002,499V515"/>
<rect x="913" y="309" width="70" height="214" class="bx"/>
<path class="w" d="M932,309V523M963,309V523M913,452H932"/>
<use href="#rh" x="872" y="320"/><use href="#rh" x="872" y="350"/><use href="#rh" x="872" y="377"/><use href="#rh" x="872" y="408"/><use href="#rh" x="872" y="437"/>
<circle cx="847" cy="320" r="2.3"/><circle cx="849" cy="377" r="2.3"/><circle cx="849" cy="408" r="2.3"/>
<g class="t">
<text x="937" y="331">MS</text><text x="965" y="345" font-size="9">OUT</text>
<text x="915" y="326">X1</text><text x="915" y="354">X3</text><text x="915" y="382">X4</text><text x="915" y="411">X5</text><text x="915" y="440">X6</text>
<text x="915" y="471">A0</text><text x="915" y="484">A1</text><text x="915" y="498">A2</text><text x="915" y="512">E1</text>
<text x="837" y="317">LSND1</text><text x="838" y="374">SND</text>
<text x="873" y="312">R32  2,4 к</text><text x="870" y="343">R33  470 к</text><text x="868" y="371">R34  470к</text><text x="868" y="402">R35  75 к</text><text x="866" y="431">R36  300 к</text>
<text x="838" y="464">KL0</text><text x="838" y="477">KL1</text><text x="838" y="491">KL2</text>
</g>
<g class="t s"><text x="902" y="316">13</text><text x="902" y="346">15</text><text x="902" y="374">12</text><text x="906" y="405">1</text><text x="906" y="434">5</text><text x="902" y="464">11</text><text x="902" y="477">10</text><text x="906" y="491">9</text><text x="903" y="505">6</text><text x="988" y="334">3</text><text x="988" y="503">1</text></g>

<!-- ===== DD12 ===== -->
<text class="t" x="913" y="541">DD12  К561КП2</text>
<path class="w" d="M835,562H917M835,587H917M850,587V617H917M835,645H917M835,675H917M835,688H917M835,702H917M895,720H917M983,572H1010M983,712H1005"/>
<path class="w3" d="M895,712V728M1005,704V720"/>
<rect x="917" y="548" width="66" height="184" class="bx"/>
<path class="w" d="M935,548V732M965,548V732M917,662H935"/>
<use href="#rh" x="873" y="562"/><use href="#rh" x="873" y="587"/><use href="#rh" x="873" y="617"/><use href="#rh" x="873" y="645"/>
<circle cx="850" cy="587" r="2.3"/>
<g class="t">
<text x="941" y="581">MS</text><text x="967" y="604" font-size="9">OUT</text>
<text x="919" y="567">X1</text><text x="919" y="594">X4</text><text x="919" y="622">X5</text><text x="919" y="649">X7</text>
<text x="919" y="678">A0</text><text x="919" y="692">A1</text><text x="919" y="706">A2</text><text x="919" y="724">E1</text>
<text x="837" y="558">HMF1</text><text x="838" y="584">SND</text><text x="838" y="642">MF</text>
<text x="873" y="553">R42  220 к</text><text x="868" y="582">R43  150 к</text><text x="868" y="610">R44  75 к</text><text x="868" y="638">R45  10 к</text>
<text x="838" y="672">KL3</text><text x="838" y="685">KL4</text><text x="838" y="699">KL5</text><text x="858" y="729">C28</text>
</g>
<g class="t s"><text x="906" y="559">15</text><text x="906" y="584">12</text><text x="910" y="614">1</text><text x="910" y="642">2</text><text x="905" y="672">11</text><text x="905" y="685">10</text><text x="909" y="699">9</text><text x="908" y="717">6</text><text x="988" y="568">3</text><text x="988" y="708">7</text></g>

<!-- ===== DA2.2 / DA2.3 ===== -->
<path class="w" d="M835,767H985V838M892,767V839H905M892,797H985M835,853H905M957,838H1012M985,838V937M1012,867H992M835,873H891V940M835,940H878V1010M892,943H972V995M892,943V1010M892,968H972M892,995H905M957,995H1010M835,1010H905M852,1010V1064M892,1010V1064M835,1078H958V1121M905,1078V1121M835,1121H918M949,1121H1010"/>
<use href="#cH" x="876" y="767"/><use href="#cH" x="936" y="767"/>
<use href="#rh" x="930" y="797"/>
<rect x="905" y="824" width="52" height="42" class="bx"/><path class="w" d="M938,824V866M914,830V846L924,838Z"/>
<rect x="980" y="853" width="10" height="27" class="bx"/><path d="M992,867L999,863V871Z"/>
<use href="#rv" x="985" y="895"/><use href="#gnd" x="985" y="938"/>
<use href="#cH" x="876" y="873"/><use href="#rv" x="891" y="895"/>
<use href="#rv" x="878" y="953"/>
<use href="#cH" x="931" y="943"/>
<use href="#rh" x="918" y="968"/>
<rect x="905" y="982" width="52" height="41" class="bx"/><path class="w" d="M938,982V1023M914,988V1004L924,996Z"/>
<use href="#rv" x="852" y="1024"/><use href="#gnd" x="852" y="1065"/>
<use href="#cV" x="892" y="1037"/><use href="#gnd" x="892" y="1065"/>
<use href="#cH" x="876" y="1078"/><use href="#rh" x="922" y="1078"/>
<use href="#dR" x="865" y="1121"/>
<rect x="918" y="1107" width="27" height="28" class="bx"/><circle cx="947" cy="1121" r="2.6" fill="#fff" stroke="#000" stroke-width="1.6"/>
<use href="#rh" x="970" y="1121"/>
<g><circle cx="892" cy="767" r="2.3"/><circle cx="892" cy="797" r="2.3"/><circle cx="985" cy="797" r="2.3"/><circle cx="985" cy="838" r="2.3"/><circle cx="892" cy="968" r="2.3"/><circle cx="972" cy="968" r="2.3"/><circle cx="972" cy="995" r="2.3"/><circle cx="852" cy="1010" r="2.3"/><circle cx="878" cy="1010" r="2.3"/><circle cx="892" cy="1010" r="2.3"/><circle cx="905" cy="1078" r="2.3"/><circle cx="905" cy="1121" r="2.3"/><circle cx="958" cy="1121" r="2.3"/></g>
<g class="t">
<text x="860" y="749">0,033 мк</text><text x="913" y="749">C29  150</text>
<text x="840" y="764">INL1</text><text x="912" y="788">R51  220 к</text>
<text x="930" y="818">DA2.2</text><text x="840" y="850">UM</text>
<text x="940" y="882">R52   10 к</text><text x="999" y="906">R53</text><text x="998" y="924">200</text>
<text x="840" y="869">HMF</text><text x="857" y="895">C30</text><text x="853" y="913">0,1 мк</text><text x="901" y="899">R54   10 к</text>
<text x="840" y="935">LUCC</text><text x="935" y="934">C31  10</text>
<text x="846" y="962">R55</text><text x="843" y="980">120 к</text><text x="906" y="959">R56  2,2 M</text>
<text x="962" y="1019">DA2.3</text><text x="840" y="1006">UM</text>
<text x="861" y="1041">R57</text><text x="860" y="1058">75 к</text><text x="885" y="1030">+</text><text x="905" y="1044">C35  0,47 мк×16 В</text>
<text x="840" y="1075">INC</text><text x="945" y="1066">R61   4,7 M</text>
<text x="842" y="1103">C36  3300</text><text x="840" y="1117">POW</text><text x="920" y="1101">DD4.6</text><text x="928" y="1125">1</text>
<text x="845" y="1150">VD21  КД522А</text><text x="970" y="1149">R62</text><text x="970" y="1166">10 к</text>
</g>
<g class="t s"><text x="897" y="832">6</text><text x="897" y="850">5</text><text x="961" y="835">7</text><text x="893" y="992">13</text><text x="893" y="1007">12</text><text x="960" y="992">14</text><text x="910" y="1117">9</text><text x="951" y="1116">8</text></g>

<!-- ===== BODY TEXT ===== -->
<g class="b">
<text x="22" y="1261" textLength="326" lengthAdjust="spacingAndGlyphs">нируются, как кнопки клавиатуры. Поэ-</text>
<text x="22" y="1277.5" textLength="326" lengthAdjust="spacingAndGlyphs">тому введена цепь DD4.4,R3,DD4.5,VD5,</text>
<text x="22" y="1294" textLength="326" lengthAdjust="spacingAndGlyphs">которая сигналом выключения процессо-</text>
<text x="22" y="1310.5" textLength="326" lengthAdjust="spacingAndGlyphs">ра OFF принудительно “размыкает” пере-</text>
<text x="22" y="1327" textLength="326" lengthAdjust="spacingAndGlyphs">ключатели, обслуживаемые сигналом ска-</text>
<text x="22" y="1343.5" textLength="101" lengthAdjust="spacingAndGlyphs">нирования P8.</text>
<text x="31" y="1360" textLength="311" lengthAdjust="spacingAndGlyphs">“Поднятие трубки” осуществляется</text>
<text x="22" y="1376.5" textLength="326" lengthAdjust="spacingAndGlyphs">ключом КК3, а набор номера — ключом</text>
<text x="22" y="1393" textLength="326" lengthAdjust="spacingAndGlyphs">КК4. Номинальное напряжение на выво-</text>
<text x="22" y="1409.5" textLength="326" lengthAdjust="spacingAndGlyphs">де INL составляет 12...13 В при токе в</text>
<text x="22" y="1426" textLength="326" lengthAdjust="spacingAndGlyphs">линии 35 мА. Часть тока с линии посту-</text>
<text x="22" y="1442.5" textLength="326" lengthAdjust="spacingAndGlyphs">пает на транзистор VT5 разговорного</text>
<text x="22" y="1459" textLength="326" lengthAdjust="spacingAndGlyphs">узла, а часть — через дроссель L1 на под-</text>
<text x="22" y="1475.5" textLength="326" lengthAdjust="spacingAndGlyphs">зарядку аккумуляторов и питание теле-</text>
<text x="22" y="1492" textLength="326" lengthAdjust="spacingAndGlyphs">фона. Дроссель имеет большое сопро-</text>

<text x="377" y="1261" textLength="326" lengthAdjust="spacingAndGlyphs">тивление переменному току звуковой</text>
<text x="377" y="1277.5" textLength="326" lengthAdjust="spacingAndGlyphs">частоты и малое для постоянного тока,</text>
<text x="377" y="1294" textLength="326" lengthAdjust="spacingAndGlyphs">поэтому цепи питания и подзарядки не</text>
<text x="377" y="1310.5" textLength="238" lengthAdjust="spacingAndGlyphs">уменьшают полезный сигнал.</text>
<text x="396" y="1327" textLength="307" lengthAdjust="spacingAndGlyphs">На DD10 собран ЦАП. Он использует-</text>
<text x="377" y="1343.5" textLength="326" lengthAdjust="spacingAndGlyphs">ся для подачи звуковых сигналов в ли-</text>
<text x="377" y="1360" textLength="326" lengthAdjust="spacingAndGlyphs">нию и на внутреннюю динамическую го-</text>
<text x="377" y="1376.5" textLength="326" lengthAdjust="spacingAndGlyphs">ловку. В линию ЦАП выдает сигнал за-</text>
<text x="377" y="1393" textLength="326" lengthAdjust="spacingAndGlyphs">проса, гудки, осуществляет тоновый на-</text>
<text x="377" y="1409.5" textLength="326" lengthAdjust="spacingAndGlyphs">бор номера. Уровень 0 на выводе SNON</text>
<text x="377" y="1426" textLength="326" lengthAdjust="spacingAndGlyphs">разрешает работу ЦАП и включает уси-</text>
<text x="377" y="1442.5" textLength="326" lengthAdjust="spacingAndGlyphs">литель для ЦАП, собранный на элементе</text>
<text x="377" y="1459" textLength="326" lengthAdjust="spacingAndGlyphs">DD13.1. Поскольку в активном режиме</text>
<text x="377" y="1475.5" textLength="326" lengthAdjust="spacingAndGlyphs">элемент потребляет значительный ток,</text>
<text x="377" y="1492" textLength="326" lengthAdjust="spacingAndGlyphs">его в случае ненадобности отключают</text>

<text x="735" y="1261" textLength="328" lengthAdjust="spacingAndGlyphs">сигналом SNON. Полный размах напря-</text>
<text x="735" y="1277.5" textLength="314" lengthAdjust="spacingAndGlyphs">жения на выводе SND составляет 1 В.</text>
<text x="755" y="1294" textLength="308" lengthAdjust="spacingAndGlyphs">Усилитель для динамической головки</text>
<text x="735" y="1310.5" textLength="328" lengthAdjust="spacingAndGlyphs">собран на микросхеме DA1. Источник</text>
<text x="735" y="1327" textLength="328" lengthAdjust="spacingAndGlyphs">входного сигнала и усиление определя-</text>
<text x="735" y="1343.5" textLength="328" lengthAdjust="spacingAndGlyphs">ются кодом на входах аналогового муль-</text>
<text x="735" y="1360" textLength="328" lengthAdjust="spacingAndGlyphs">типлексора DD11. Сигнал на головку мо-</text>
<text x="735" y="1376.5" textLength="328" lengthAdjust="spacingAndGlyphs">жет попадать как с ЦАП, так и с линии</text>
<text x="735" y="1393" textLength="328" lengthAdjust="spacingAndGlyphs">через предварительный усилитель на</text>
<text x="735" y="1409.5" textLength="328" lengthAdjust="spacingAndGlyphs">DA2.2 и регулятор громкости R52. Сиг-</text>
<text x="735" y="1426" textLength="328" lengthAdjust="spacingAndGlyphs">нал на предварительный усилитель по-</text>
<text x="735" y="1442.5" textLength="328" lengthAdjust="spacingAndGlyphs">дается с моста компенсатора местного</text>
<text x="735" y="1459" textLength="328" lengthAdjust="spacingAndGlyphs">эффекта R48R50C26. Суть компенсации</text>
<text x="735" y="1475.5" textLength="328" lengthAdjust="spacingAndGlyphs">состоит в вычитании сигнала микрофона</text>
<text x="735" y="1492" textLength="144" lengthAdjust="spacingAndGlyphs">из сигнала линии.</text>
</g>

<!-- FOOTER -->
<text x="22" y="1553" font-family="Liberation Sans" font-weight="bold" font-size="19" textLength="29" lengthAdjust="spacingAndGlyphs">48</text>
<text x="62" y="1551" font-family="Liberation Sans" font-size="13" stroke="#000" stroke-width="0.25" textLength="139" lengthAdjust="spacingAndGlyphs">РАДИО № 12, 1995 г.</text>
</svg>
</body></html>
